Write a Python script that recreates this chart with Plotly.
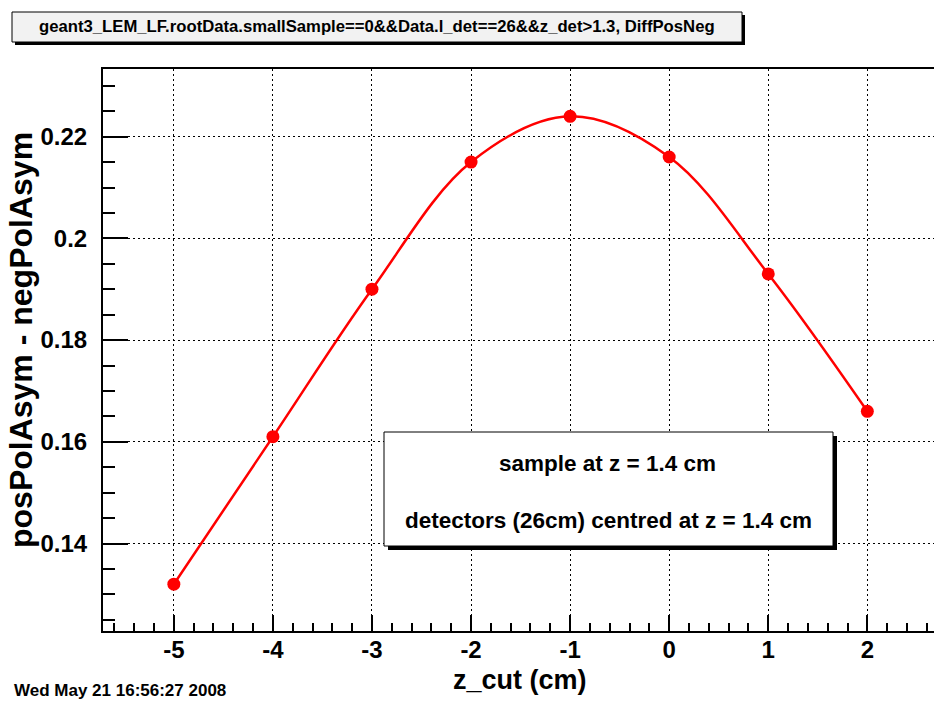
import plotly.graph_objects as go

# ---- data ----
z_cut = [-5, -4, -3, -2, -1, 0, 1, 2]
diff_pos_neg = [0.132, 0.161, 0.190, 0.215, 0.224, 0.216, 0.193, 0.166]

x_tick_vals = [-5, -4, -3, -2, -1, 0, 1, 2]
x_tick_text = ["-5", "-4", "-3", "-2", "-1", "0", "1", "2"]
y_tick_vals = [0.14, 0.16, 0.18, 0.20, 0.22]
y_tick_text = ["0.14", "0.16", "0.18", "0.2", "0.22"]

title_text = "geant3_LEM_LF.rootData.smallSample==0&&Data.l_det==26&&z_det>1.3, DiffPosNeg"
x_title = "z_cut (cm)"
y_title = "posPolAsym - negPolAsym"
box_lines = ["sample at z = 1.4 cm", "detectors (26cm) centred at z = 1.4 cm"]
date_text = "Wed May 21 16:56:27 2008"

# ---- layout geometry ----
W, H = 934, 701
ML, MR, MT, MB = 103, 0, 69, 70
PW = W - ML - MR
PH = H - MT - MB


def px(xp):
    return (xp - ML) / PW


def py(yp):
    return (H - MB - yp) / PH


FONT = "Liberation Sans, Arial, Helvetica, sans-serif"

fig = go.Figure()
fig.add_trace(go.Scatter(
    x=z_cut, y=diff_pos_neg,
    mode="lines+markers",
    line=dict(color="#ff0000", width=2.5, shape="spline", smoothing=1),
    marker=dict(color="#ff0000", size=13, symbol="circle"),
    showlegend=False,
    hoverinfo="x+y",
))

shapes = []
# title box (shadow + box)
shapes.append(dict(type="rect", xref="paper", yref="paper",
                   x0=px(15), x1=px(745), y0=py(45), y1=py(15),
                   fillcolor="black", line=dict(width=0), layer="above"))
shapes.append(dict(type="rect", xref="paper", yref="paper",
                   x0=px(12), x1=px(742), y0=py(42), y1=py(12),
                   fillcolor="#f2f2f2", line=dict(color="black", width=1), layer="above"))
# text box (shadow + box)
shapes.append(dict(type="rect", xref="paper", yref="paper",
                   x0=px(388), x1=px(837), y0=py(550), y1=py(436),
                   fillcolor="black", line=dict(width=0), layer="above"))
shapes.append(dict(type="rect", xref="paper", yref="paper",
                   x0=px(384), x1=px(833), y0=py(546), y1=py(432),
                   fillcolor="white", line=dict(color="black", width=1), layer="above"))

annotations = [
    dict(text=title_text, xref="paper", yref="paper", x=px(377), y=py(27),
         xanchor="center", yanchor="middle", showarrow=False,
         font=dict(family=FONT, size=16.7, color="black", weight="bold")),
    dict(text=box_lines[0], xref="paper", yref="paper", x=px(607), y=py(463),
         xanchor="center", yanchor="middle", showarrow=False,
         font=dict(family=FONT, size=22.5, color="black", weight="bold")),
    dict(text=box_lines[1], xref="paper", yref="paper", x=px(608), y=py(520),
         xanchor="center", yanchor="middle", showarrow=False,
         font=dict(family=FONT, size=22.5, color="black", weight="bold")),
    dict(text=x_title, xref="paper", yref="paper", x=px(520), y=py(680),
         xanchor="center", yanchor="middle", showarrow=False,
         font=dict(family=FONT, size=27, color="black", weight="bold")),
    dict(text=y_title, xref="paper", yref="paper", x=px(21), y=py(340),
         xanchor="center", yanchor="middle", showarrow=False, textangle=-90,
         font=dict(family=FONT, size=32, color="black", weight="bold")),
    dict(text=date_text, xref="paper", yref="paper", x=px(12), y=py(690),
         xanchor="left", yanchor="middle", showarrow=False,
         font=dict(family=FONT, size=17, color="black", weight="bold")),
]

fig.update_layout(
    width=W, height=H,
    margin=dict(l=ML, r=MR, t=MT, b=MB, pad=0, autoexpand=False),
    paper_bgcolor="white", plot_bgcolor="white",
    shapes=shapes, annotations=annotations,
    showlegend=False,
    font=dict(family=FONT, color="black"),
)

fig.update_xaxes(
    range=[-5.715, 2.673],
    tickmode="array", tickvals=x_tick_vals, ticktext=x_tick_text,
    ticks="inside", ticklen=16, tickwidth=1.5, tickcolor="black",
    minor=dict(dtick=0.2, tick0=0, ticks="inside", ticklen=8, tickwidth=1.5,
               tickcolor="black", showgrid=False),
    tickfont=dict(family=FONT, size=24, color="black", weight="bold"),
    ticklabelstandoff=-4,
    showline=True, linecolor="black", linewidth=2, mirror=True,
    showgrid=True, gridcolor="black", gridwidth=1, griddash="2px,3px",
    zeroline=False,
)
fig.update_yaxes(
    range=[0.1228, 0.2333],
    tickmode="array", tickvals=y_tick_vals, ticktext=y_tick_text,
    ticks="inside", ticklen=25, tickwidth=1.5, tickcolor="black",
    minor=dict(dtick=0.005, tick0=0, ticks="inside", ticklen=12, tickwidth=1.5,
               tickcolor="black", showgrid=False),
    tickfont=dict(family=FONT, size=24, color="black", weight="bold"),
    ticklabelstandoff=9,
    showline=True, linecolor="black", linewidth=2, mirror=False,
    showgrid=True, gridcolor="black", gridwidth=1, griddash="2px,3px",
    zeroline=False,
)

fig.write_html("out.html")
